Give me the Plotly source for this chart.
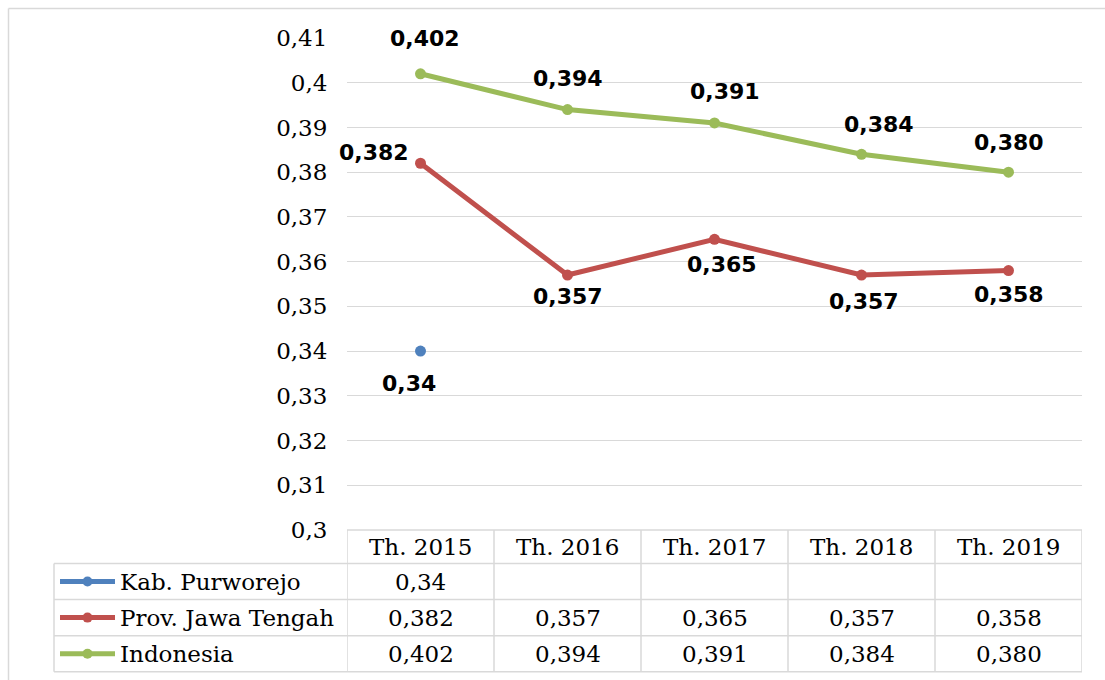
import plotly.graph_objects as go

# ---------------- data ----------------
categories = ["Th. 2015", "Th. 2016", "Th. 2017", "Th. 2018", "Th. 2019"]
series_names = ["Kab. Purworejo", "Prov. Jawa Tengah", "Indonesia"]
kab_purworejo = [0.34, None, None, None, None]
prov_jateng = [0.382, 0.357, 0.365, 0.357, 0.358]
indonesia = [0.402, 0.394, 0.391, 0.384, 0.380]
series_decimals = [2, 3, 3]
y_tick_vals = [0.30, 0.31, 0.32, 0.33, 0.34, 0.35, 0.36, 0.37, 0.38, 0.39, 0.40, 0.41]
y_tick_labels = ["0,3", "0,31", "0,32", "0,33", "0,34", "0,35", "0,36", "0,37",
                 "0,38", "0,39", "0,4", "0,41"]

# ---------------- styles ----------------
colors = ["#4F81BD", "#C0504D", "#9BBB59"]
# data-label pixel offsets (dx, dy up-positive) per series and point
label_offsets = [
    [(-12, -32), None, None, None, None],
    [(-47, 11), (0, -21), (7, -25), (2, -26), (0, -24)],
    [(4, 35), (0, 31), (10, 31), (17, 30), (0, 30)],
]
SERIF = "DejaVu Serif"
BOLD = "DejaVu Sans"
GRID = "#D9D9D9"
SERIF_SIZE = 23

W, H = 1105, 680
L, R, T, B = 347, 1082, 38, 530


def px_x(p):
    return (p - L) / (R - L)


def px_y(p):
    return (B - p) / (B - T)


def fmt(v, d):
    if v is None:
        return ""
    return f"{v:.{d}f}".replace(".", ",")


all_series = [kab_purworejo, prov_jateng, indonesia]

fig = go.Figure()
for name, vals, col in zip(series_names, all_series, colors):
    fig.add_trace(go.Scatter(
        x=categories, y=vals, name=name, mode="lines+markers",
        line=dict(color=col, width=5),
        marker=dict(color=col, size=11),
        connectgaps=False, hoverinfo="skip",
    ))

annotations = []
# data labels
for vals, dec, offs in zip(all_series, series_decimals, label_offsets):
    for cat, v, off in zip(categories, vals, offs):
        if v is None:
            continue
        annotations.append(dict(
            x=cat, y=v, xref="x", yref="y", text="<b>" + fmt(v, dec) + "</b>",
            showarrow=False, xshift=off[0], yshift=off[1],
            xanchor="center", yanchor="middle",
            font=dict(family=BOLD, size=22, color="#000000"),
        ))

# table geometry (pixels)
row_lines = [530, 563.5, 599.5, 635.7, 671.7]
header_center = (row_lines[0] + row_lines[1]) / 2
row_centers = [(row_lines[i] + row_lines[i + 1]) / 2 for i in range(1, 4)]
table_left = 54

shapes = []
line_style = dict(color=GRID, width=1.5)
shapes.append(dict(type="line", xref="paper", yref="paper", x0=0, x1=1,
                   y0=px_y(530), y1=px_y(530), line=line_style))
for yl in row_lines[1:]:
    shapes.append(dict(type="line", xref="paper", yref="paper",
                       x0=px_x(table_left), x1=1, y0=px_y(yl), y1=px_y(yl),
                       line=line_style))
shapes.append(dict(type="line", xref="paper", yref="paper",
                   x0=px_x(table_left), x1=px_x(table_left),
                   y0=px_y(row_lines[1]), y1=px_y(row_lines[-1]), line=line_style))
for i in range(len(categories) + 1):
    shapes.append(dict(type="line", xref="x", yref="paper",
                       x0=i - 0.5, x1=i - 0.5,
                       y0=px_y(row_lines[0]), y1=px_y(row_lines[-1]), line=line_style))

cell_font = dict(family=SERIF, size=SERIF_SIZE, color="#000000")
# header labels
for cat in categories:
    annotations.append(dict(x=cat, y=px_y(header_center), xref="x", yref="paper",
                            text=cat, showarrow=False, xanchor="center",
                            yanchor="middle", font=cell_font))

# rows
for name, vals, dec, col, rc in zip(series_names, all_series, series_decimals,
                                     colors, row_centers):
    shapes.append(dict(type="line", xref="paper", yref="paper",
                       x0=px_x(60), x1=px_x(115), y0=px_y(rc), y1=px_y(rc),
                       line=dict(color=col, width=5)))
    r = 5
    shapes.append(dict(type="circle", xref="paper", yref="paper",
                       x0=px_x(87.5 - r), x1=px_x(87.5 + r),
                       y0=px_y(rc + r), y1=px_y(rc - r),
                       fillcolor=col, line=dict(color=col, width=0)))
    annotations.append(dict(x=px_x(118), y=px_y(rc), xref="paper", yref="paper",
                            xanchor="left", yanchor="middle", text=name,
                            showarrow=False, font=cell_font))
    for cat, v in zip(categories, vals):
        if v is None:
            continue
        annotations.append(dict(x=cat, y=px_y(rc), xref="x", yref="paper",
                                text=fmt(v, dec), showarrow=False,
                                xanchor="center", yanchor="middle", font=cell_font))

# outer chart border (top & left visible)
shapes.append(dict(type="line", xref="paper", yref="paper",
                   x0=px_x(8.5), x1=px_x(1110), y0=px_y(8.5), y1=px_y(8.5),
                   line=line_style))
shapes.append(dict(type="line", xref="paper", yref="paper",
                   x0=px_x(8.5), x1=px_x(8.5), y0=px_y(8.5), y1=px_y(690),
                   line=line_style))

fig.update_layout(
    width=W, height=H,
    margin=dict(l=L, r=W - R, t=T, b=H - B, pad=0),
    paper_bgcolor="white", plot_bgcolor="white",
    showlegend=False, hovermode=False,
    separators=",.",
    xaxis=dict(type="category", range=[-0.5, 4.5], showgrid=False,
               showticklabels=False, zeroline=False, showline=False, ticks=""),
    yaxis=dict(range=[0.30, 0.41], tickvals=y_tick_vals, ticktext=y_tick_labels,
               showgrid=True, gridcolor=GRID, gridwidth=1.2, zeroline=False,
               showline=False, ticks="outside", ticklen=14, tickcolor="rgba(0,0,0,0)",
               tickfont=dict(family=SERIF, size=SERIF_SIZE, color="#000000")),
    shapes=shapes, annotations=annotations,
)

fig.write_html("out.html",
               config={"displayModeBar": False},
               post_script="document.body.style.margin='0px';"
                           "document.body.style.overflow='hidden';")
